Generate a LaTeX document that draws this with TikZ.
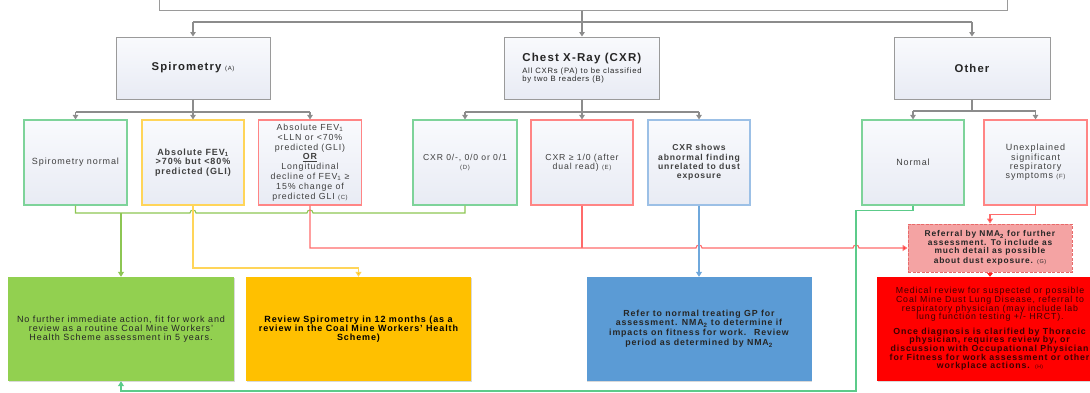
\documentclass[tikz,border=0pt]{standalone}
\usepackage{fontspec}
\setmainfont{Liberation Sans}[LetterSpace=10]
\usetikzlibrary{arrows.meta,shadows}
\definecolor{lineGray}{HTML}{8C8C8C}
\definecolor{boxGray}{HTML}{9A9A9A}
\definecolor{fillTop}{HTML}{F9FAFD}
\definecolor{fillBot}{HTML}{E8EBF4}
\definecolor{grnBorder}{HTML}{7ED39A}
\definecolor{yelBorder}{HTML}{FFD559}
\definecolor{redBorder}{HTML}{FF8585}
\definecolor{bluBorder}{HTML}{9CC0E6}
\definecolor{grnLine}{HTML}{8DC653}
\definecolor{yelLine}{HTML}{FFD559}
\definecolor{yelTip}{HTML}{FFC000}
\definecolor{redLine}{HTML}{FF6B6B}
\definecolor{redTip}{HTML}{FF2020}
\definecolor{bluLine}{HTML}{6FA8DC}
\definecolor{tealLine}{HTML}{5CCB8A}
\definecolor{gFill}{HTML}{92D050}
\definecolor{oFill}{HTML}{FFC000}
\definecolor{bFill}{HTML}{5B9BD5}
\definecolor{rFill}{HTML}{FF0000}
\definecolor{dashFill}{HTML}{F4A3A3}
\definecolor{dashBorder}{HTML}{E86A6A}
\definecolor{darkText}{HTML}{262626}
\definecolor{rowText}{HTML}{3F3F3F}
\definecolor{redText}{HTML}{3D0000}
\begin{document}
\begin{tikzpicture}[x=1pt,y=-1pt,
  tip/.style={-{Triangle[width=5.5pt,length=4.5pt]}},
  gline/.style={draw=lineGray,line width=1.1pt},
  headbox/.style={draw=boxGray,line width=1pt,top color=fillTop,bottom color=fillBot,
    minimum height=62pt,inner sep=1pt,align=center,text=darkText,
    drop shadow={shadow xshift=0.8pt,shadow yshift=-0.8pt,opacity=0.25}},
  rowbox/.style={line width=1.1pt,top color=fillTop,bottom color=fillBot,
    minimum height=85pt,inner sep=1pt,align=center,text=rowText,
    font=\fontsize{9}{10}\selectfont},
  outbox/.style={minimum height=104pt,inner sep=1pt,align=center,
    font=\fontsize{9}{9.2}\selectfont,
    drop shadow={shadow xshift=0.8pt,shadow yshift=-0.8pt,opacity=0.3}},
  grnc/.style={draw=grnLine,line width=1.1pt},
  yelc/.style={draw=yelLine,line width=1.1pt},
  redc/.style={draw=redLine,line width=1.1pt},
  bluc/.style={draw=bluLine,line width=1.1pt},
  tealc/.style={draw=tealLine,line width=1.1pt}
]
\useasboundingbox (0,0) rectangle (1090,392);
\clip (0,0) rectangle (1090,392);

% root box (cropped at top)
\node[draw=boxGray,line width=1pt,fill=white,minimum width=848pt,minimum height=40pt,inner sep=0pt] (root) at (583,-10) {};

% header boxes
\node[headbox,minimum width=154pt] (spiro) at (193,68)
  {{\fontsize{11.3}{12}\selectfont\bfseries Spirometry} {\fontsize{6}{6}\selectfont (A)}};
\node[headbox,minimum width=155pt,align=left,font=\fontsize{7.7}{8}\selectfont] (cxr) at (582,68)
  {{\fontsize{11.5}{12}\selectfont\bfseries Chest X-Ray (CXR)}\\[3.5pt]
   All CXRs (PA) to be classified\\ by two B readers (B)};
\node[headbox,minimum width=156pt] (other) at (972,68)
  {{\fontsize{11.3}{12}\selectfont\bfseries Other}};

% second row
\node[rowbox,draw=grnBorder,minimum width=103pt] (n1) at (75.5,162.5) {Spirometry normal};
\node[rowbox,draw=yelBorder,minimum width=102pt,font=\fontsize{9}{9.6}\selectfont\bfseries] (n2) at (193,162.5)
  {Absolute FEV\textsubscript{1}\\ >70\% but <80\%\\ predicted (GLI{\fontsize{4}{4}\selectfont .})};
\node[rowbox,draw=redBorder,minimum width=103pt,font=\fontsize{8.8}{9.8}\selectfont] (n3) at (310,162.5)
  {Absolute FEV\textsubscript{1}\\ <LLN or <70\%\\ predicted (GLI)\\ \textbf{\underline{OR}}\\ Longitudinal\\
   decline of FEV\textsubscript{1} ≥\\ 15\% change of\\ predicted GLI {\fontsize{6}{6}\selectfont (C)}};
\node[rowbox,draw=grnBorder,minimum width=104pt,font=\fontsize{8.6}{9}\selectfont] (n4) at (465,162.5)
  {CXR 0/-, 0/0 or 0/1\\ {\fontsize{6}{6}\selectfont (D)}};
\node[rowbox,draw=redBorder,minimum width=102pt,font=\fontsize{8.7}{9}\selectfont] (n5) at (582,162.5)
  {CXR ≥ 1/0 (after\\ dual read) {\fontsize{6}{6}\selectfont (E)}};
\node[rowbox,draw=bluBorder,minimum width=102pt,font=\fontsize{8.6}{9.4}\selectfont\bfseries] (n6) at (699,162.5)
  {CXR shows\\ abnormal finding\\ unrelated to dust\\ exposure};
\node[rowbox,draw=grnBorder,minimum width=102pt,font=\fontsize{9}{9}\selectfont] (n7) at (913,162.5) {Normal};
\node[rowbox,draw=redBorder,minimum width=103pt,font=\fontsize{9}{9.3}\selectfont] (n8) at (1035.5,162.5)
  {Unexplained\\ significant\\ respiratory\\ symptoms {\fontsize{6}{6}\selectfont (F)}};

% referral box
\node[draw=dashBorder,fill=dashFill,line width=1pt,dash pattern=on 3pt off 1.5pt,
  minimum width=164pt,minimum height=48pt,inner sep=1pt,align=center,text=darkText,
  font=\fontsize{8.4}{8.4}\selectfont\bfseries] (dash) at (990,248)
  {Referral by NMA\textsubscript{2} for further\\ assessment. To include as\\ much detail as possible\\[1.8pt]
   about dust exposure. {\fontsize{5.5}{6}\selectfont\mdseries (G)}};

% outcome boxes
\node[outbox,fill=gFill,minimum width=226pt,text=darkText] (g) at (121,329)
  {No further immediate action, fit for work and\\ review as a routine Coal Mine Workers'\\ Health Scheme assessment in 5 years.};
\node[outbox,fill=oFill,minimum width=225pt,text=black,font=\fontsize{9}{9}\selectfont\bfseries] (o) at (358.5,329)
  {Review Spirometry in 12 months (as a\\ review in the Coal Mine Workers' Health\\ Scheme)};
\node[outbox,fill=bFill,minimum width=225pt,text=darkText,font=\fontsize{8.8}{9.3}\selectfont\bfseries] (b) at (699,329)
  {Refer to normal treating GP for\\ assessment. NMA\textsubscript{2} to determine if\\ impacts on fitness for work.~ Review\\[1.5pt] period as determined by NMA\textsubscript{2}};
\node[outbox,fill=rFill,minimum width=226pt,text=redText,font=\fontsize{8.8}{8.6}\selectfont] (r) at (990,329)
  {Medical review for suspected or possible\\ Coal Mine Dust Lung Disease, referral to\\ respiratory physician (may include lab\\ lung function testing +/- HRCT).\\[6pt]
   \textbf{Once diagnosis is clarified by Thoracic}\\ \textbf{physician, requires review by, or}\\ \textbf{discussion with Occupational Physician}\\ \textbf{for Fitness for work assessment or other}\\ \textbf{workplace actions.} {\fontsize{5}{5}\selectfont (H)}};

% coordinates
\coordinate (dist) at (582,22);
\coordinate (gmerge) at (121,213);

% top distribution
\draw[gline] (root.south -| cxr.north) -- (dist);
\draw[gline] (dist -| spiro.north) -- (dist -| other.north);
\draw[gline,tip] (dist -| spiro.north) -- (spiro.north);
\draw[gline,tip] (dist) -- (cxr.north);
\draw[gline,tip] (dist -| other.north) -- (other.north);

% spirometry branch
\draw[gline] (spiro.south) -- (spiro.south |- 0,112);
\draw[gline] (n1.north |- 0,112) -- (n3.north |- 0,112);
\draw[gline,tip] (n1.north |- 0,112) -- (n1.north);
\draw[gline,tip] (n2.north |- 0,112) -- (n2.north);
\draw[gline,tip] (n3.north |- 0,112) -- (n3.north);

% cxr branch
\draw[gline] (cxr.south) -- (cxr.south |- 0,112);
\draw[gline] (n4.north |- 0,112) -- (n6.north |- 0,112);
\draw[gline,tip] (n4.north |- 0,112) -- (n4.north);
\draw[gline,tip] (n5.north |- 0,112) -- (n5.north);
\draw[gline,tip] (n6.north |- 0,112) -- (n6.north);

% other branch
\draw[gline] (other.south) -- (other.south |- 0,111);
\draw[gline] (n7.north |- 0,111) -- (n8.north |- 0,111);
\draw[gline,tip] (n7.north |- 0,111) -- (n7.north);
\draw[gline,tip] (n8.north |- 0,111) -- (n8.north);

% green merge (normal results)
\draw[grnc] (n1.south) -- (n1.south |- 0,213) -- (190,213)
  arc[start angle=180,end angle=0,radius=3pt] -- (307,213)
  arc[start angle=180,end angle=0,radius=3pt] -- (n4.south |- 0,213) -- (n4.south);
\draw[grnc,-{Triangle[width=6pt,length=5pt]}] (gmerge) -- (g.north);

% yellow
\draw[yelc,-{Triangle[width=6pt,length=5pt,fill=yelTip]}] (n2.south) -- (n2.south |- 0,268) -- (o.north |- 0,268) -- (o.north);

% red
\draw[redc,-{Triangle[width=6pt,length=5pt,fill=redTip]}] (n3.south) -- (n3.south |- 0,248) -- (696,248)
  arc[start angle=180,end angle=0,radius=3pt] -- (853,248)
  arc[start angle=180,end angle=0,radius=3pt] -- (dash.west);
\draw[redc] (n5.south) -- (n5.south |- 0,248);

% blue
\draw[bluc,-{Triangle[width=6pt,length=5pt]}] (n6.south) -- (b.north);

% normal (other) back to green box
\draw[tealc,-{Triangle[width=6pt,length=5pt]}] (n7.south) -- ++(0,5) -| (856,391) -| (g.south);

% unexplained to referral
\draw[redc,-{Triangle[width=6pt,length=5pt,fill=redTip]}] (n8.south) -- ++(0,9) -| (dash.north);
\draw[draw=redTip,line width=1.1pt,-{Triangle[width=6pt,length=4pt,fill=redTip]}] (dash.south) -- (r.north);
\end{tikzpicture}
\end{document}
